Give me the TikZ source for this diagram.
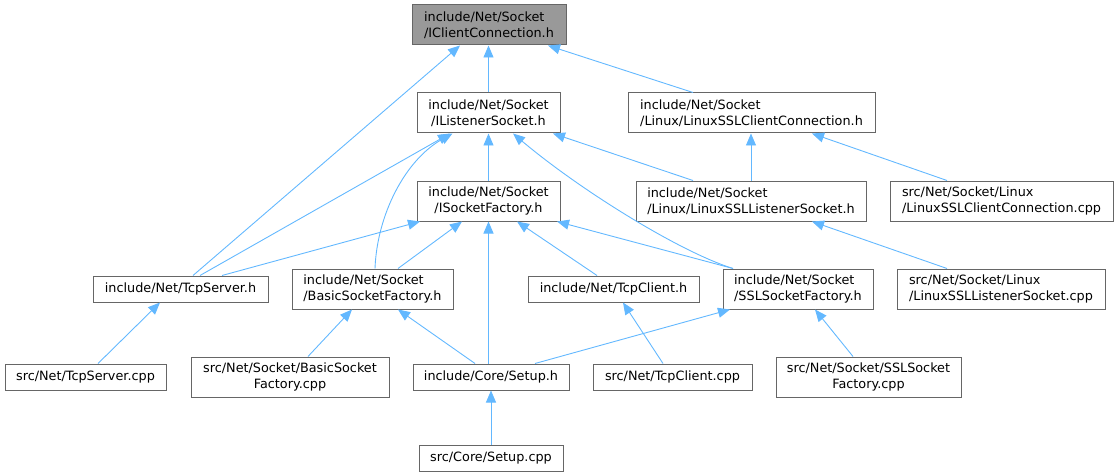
\documentclass[tikz,border=0pt]{standalone}
\usepackage{fontspec}
\setmainfont{DejaVu Sans}
\usetikzlibrary{arrows.meta}
\definecolor{depblue}{HTML}{63B8FF}

\begin{document}
\begin{tikzpicture}[x=1pt,y=-1pt,
    file/.style={draw=black!60,fill=white,line width=1pt,inner sep=0pt,
        font=\fontsize{12.8}{16}\selectfont,align=left},
    root/.style={file,fill=black!40},
    dep/.style={draw=depblue,line width=0.9pt,-{Triangle[length=12pt,width=10pt]}}]
    \useasboundingbox (0,0) rectangle (1119,476);

    \node[root,minimum width=154pt,minimum height=40pt] (iclient) at (489,25) {include/Net/Socket\\/IClientConnection.h};

    \node[file,align=center,minimum width=143pt,minimum height=40pt] (ilistener) at (488.5,113) {include/Net/Socket\\/IListenerSocket.h};
    \node[file,minimum width=247pt,minimum height=40pt] (sslclienth) at (751.5,113) {include/Net/Socket\\/Linux/LinuxSSLClientConnection.h};

    \node[file,align=center,minimum width=143pt,minimum height=40pt] (isockfac) at (488.5,201) {include/Net/Socket\\/ISocketFactory.h};
    \node[file,minimum width=230pt,minimum height=40pt] (ssllisth) at (751,201) {include/Net/Socket\\/Linux/LinuxSSLListenerSocket.h};
    \node[file,minimum width=223pt,minimum height=40pt] (sslclientcpp) at (1001.5,201) {src/Net/Socket/Linux\\/LinuxSSLClientConnection.cpp};

    \node[file,minimum width=175pt,minimum height=26pt] (tcpsrvh) at (180.5,289) {include/Net/TcpServer.h};
    \node[file,minimum width=161pt,minimum height=40pt] (basich) at (372.5,289) {include/Net/Socket\\/BasicSocketFactory.h};
    \node[file,minimum width=171pt,minimum height=26pt] (tcpclih) at (613.5,289) {include/Net/TcpClient.h};
    \node[file,minimum width=150pt,minimum height=40pt] (sslfach) at (798,289) {include/Net/Socket\\/SSLSocketFactory.h};
    \node[file,minimum width=208pt,minimum height=40pt] (ssllistcpp) at (1001,289) {src/Net/Socket/Linux\\/LinuxSSLListenerSocket.cpp};

    \node[file,minimum width=161pt,minimum height=26pt] (tcpsrvcpp) at (85.5,377) {src/Net/TcpServer.cpp};
    \node[file,align=center,minimum width=198pt,minimum height=40pt] (basiccpp) at (290,377) {src/Net/Socket/BasicSocket\\Factory.cpp};
    \node[file,minimum width=156pt,minimum height=26pt] (setuph) at (491,377) {include/Core/Setup.h};
    \node[file,minimum width=159pt,minimum height=26pt] (tcpclicpp) at (672.5,377) {src/Net/TcpClient.cpp};
    \node[file,align=center,minimum width=185pt,minimum height=40pt] (sslfaccpp) at (868.5,377) {src/Net/Socket/SSLSocket\\Factory.cpp};

    \node[file,minimum width=144pt,minimum height=26pt] (setupcpp) at (491,458) {src/Core/Setup.cpp};

    \draw[dep] (ilistener.north) -- (iclient.south -| ilistener.north);
    \draw[dep] ([xshift=12.5pt]tcpsrvh.north) -- ([xshift=-29pt]iclient.south);
    \draw[dep] ([xshift=-58.5pt]sslclienth.north) -- ([xshift=59pt]iclient.south);

    \draw[dep] (isockfac.north) -- (ilistener.south);
    \draw[dep] ([xshift=19.5pt]tcpsrvh.north) -- ([xshift=-38.5pt]ilistener.south);
    \draw[dep] ([xshift=2.5pt]basich.north) .. controls (377,215) and (405,160) .. ([xshift=-36pt]ilistener.south);
    \draw[dep] ([xshift=-58pt]ssllisth.north) -- ([xshift=64.5pt]ilistener.south);
    \draw[dep] ([xshift=-65pt]sslfach.north) .. controls (680,252) and (580,190) .. ([xshift=24.5pt]ilistener.south);

    \draw[dep] (ssllisth.north) -- (sslclienth.south -| ssllisth.north);
    \draw[dep] ([xshift=-54.5pt]sslclientcpp.north) -- ([xshift=60.5pt]sslclienth.south);

    \draw[dep] ([xshift=41.5pt]tcpsrvh.north) -- ([xshift=-68.5pt]isockfac.south);
    \draw[dep] ([xshift=25.5pt]basich.north) -- ([xshift=-26.5pt]isockfac.south);
    \draw[dep] (isockfac.south |- setuph.north) -- (isockfac.south);
    \draw[dep] ([xshift=-16.5pt]tcpclih.north) -- ([xshift=28.5pt]isockfac.south);
    \draw[dep] ([xshift=-65pt]sslfach.north) -- ([xshift=68.5pt]isockfac.south);

    \draw[dep] ([xshift=-54pt]ssllistcpp.north) -- ([xshift=61pt]ssllisth.south);

    \draw[dep] ([xshift=12.5pt]tcpsrvcpp.north) -- ([xshift=-20.5pt]tcpsrvh.south);
    \draw[dep] ([xshift=18pt]basiccpp.north) -- ([xshift=-20.5pt]basich.south);
    \draw[dep] ([xshift=-16pt]setuph.north) -- ([xshift=25.5pt]basich.south);
    \draw[dep] ([xshift=-9.5pt]tcpclicpp.north) -- ([xshift=9.5pt]tcpclih.south);
    \draw[dep] ([xshift=44pt]setuph.north) -- ([xshift=-68pt]sslfach.south);
    \draw[dep] ([xshift=-15.5pt]sslfaccpp.north) -- ([xshift=17pt]sslfach.south);

    \draw[dep] (setupcpp.north) -- (setuph.south);
\end{tikzpicture}
\end{document}
